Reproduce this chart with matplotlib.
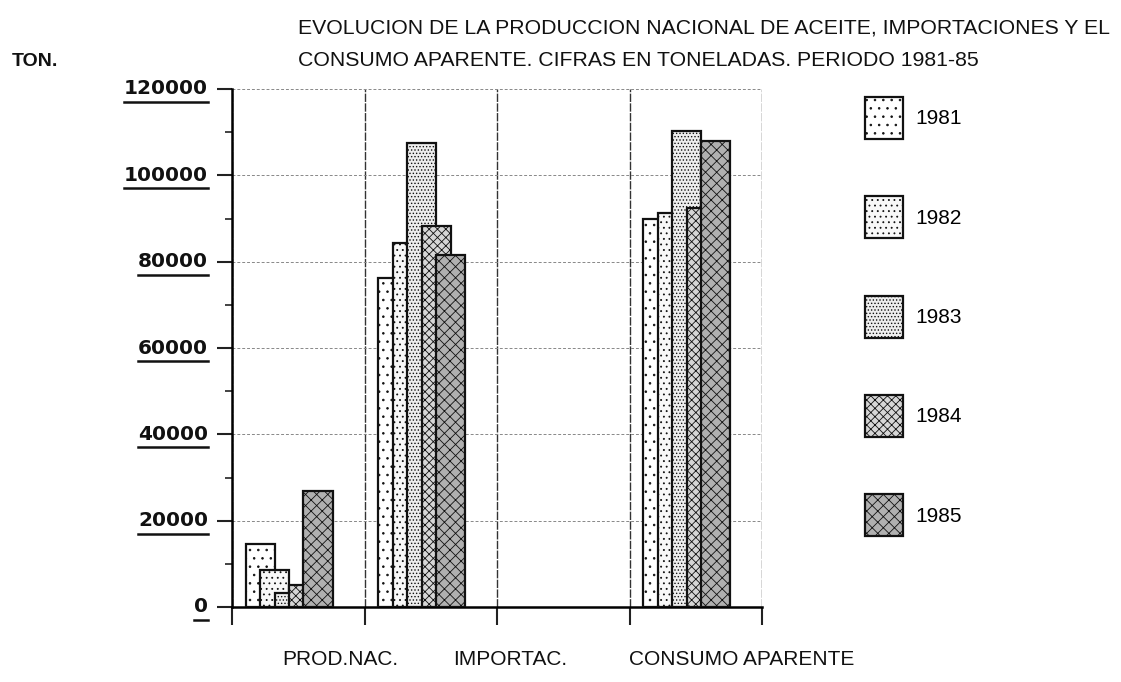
import matplotlib.pyplot as plt
import matplotlib.transforms as mtransforms
import numpy as np

# datos (toneladas)
years = ["1981", "1982", "1983", "1984", "1985"]
categories = ["PROD.NAC.", "IMPORTAC.", "CONSUMO APARENTE"]
prod_nac = [14500, 8500, 3200, 5100, 26900]
importac = [76200, 84300, 107500, 88300, 81500]
consumo = [89900, 91300, 110300, 92400, 108000]
yticks = [0, 20000, 40000, 60000, 80000, 100000, 120000]

values = np.array([prod_nac, importac, consumo])  # filas = categorias

plt.rcParams["hatch.linewidth"] = 0.6
plt.rcParams["font.family"] = ["Liberation Sans", "DejaVu Sans"]

fig = plt.figure(figsize=(11.21, 6.82), dpi=100)
ax = fig.add_axes([232 / 1121, 1 - 607 / 682, 530 / 1121, 518 / 682])

group_pos = [0, 1, 3]          # la 3a casilla queda vacia como en el original
first_off = 0.102
step = 0.1094
width = 0.219
faces = ["#ffffff", "#f8f8f8", "#eeeeee", "#d6d6d6", "#b0b0b0"]
hatches = ["..", "...", ".....", "xxxx", "xxx"]

for i, yr in enumerate(years):
    xs = np.array(group_pos) + first_off + i * step
    ax.bar(xs, values[:, i], width=width, align="edge", facecolor=faces[i],
           edgecolor="#111", hatch=hatches[i], linewidth=1.6, label=yr, zorder=3 + i)

ax.set_xlim(0, 4)
ax.set_ylim(0, 120000)
ax.set_xticks([0, 1, 2, 3, 4])
ax.set_xticklabels([])
ax.set_yticks(yticks)
ax.set_yticks(np.arange(10000, 120000, 20000), minor=True)
ax.set_yticklabels([])
ax.tick_params(axis="x", direction="out", length=13, width=1.5, color="#222")
ax.tick_params(axis="y", which="major", direction="out", length=11, width=1.5, color="#222")
ax.tick_params(axis="y", which="minor", direction="out", length=5, width=1.2, color="#222")

for s in ["top", "right"]:
    ax.spines[s].set_visible(False)
ax.spines["left"].set_linewidth(1.8)
ax.spines["bottom"].set_linewidth(1.8)

ax.grid(True, which="major", axis="y", color="#888", linewidth=0.7, linestyle=(0, (3, 2)), zorder=1)
ax.grid(True, which="major", axis="x", color="#333", linewidth=1.0, linestyle=(0, (6, 1)), zorder=1)
ax.set_axisbelow(True)

# etiquetas del eje y subrayadas
ytr = mtransforms.blended_transform_factory(ax.transAxes, ax.transData)
under = mtransforms.offset_copy(ytr, fig=fig, y=-13, units="dots")
for v in yticks:
    ax.text(-0.045, v, str(v), transform=ytr, ha="right", va="center",
            fontsize=14.5, family="DejaVu Sans", fontweight="bold", color="#111")
    x0 = -0.045 - 0.0265 * len(str(v))
    ax.plot([x0, -0.045], [v, v], transform=under, color="#111", lw=1.8, clip_on=False)

# nombres de categorias (desplazados como en el original)
xtr = mtransforms.blended_transform_factory(ax.transData, ax.transAxes)
for xc, name in zip([0.82, 2.1, 3.85], categories):
    ax.text(xc, -0.102, name, transform=xtr, ha="center", va="center",
            fontsize=15, color="#111")

fig.text(298 / 1121, 1 - 28 / 682,
         "EVOLUCION DE LA PRODUCCION NACIONAL DE ACEITE, IMPORTACIONES Y EL",
         fontsize=15.3, va="center", color="#111")
fig.text(298 / 1121, 1 - 60 / 682,
         "CONSUMO APARENTE. CIFRAS EN TONELADAS. PERIODO 1981-85",
         fontsize=15.3, va="center", color="#111")
fig.text(12 / 1121, 1 - 62 / 682, "TON.", fontsize=14, fontweight="bold", va="center", color="#111")

fig.legend(loc="upper left", bbox_to_anchor=(865 / 1121, 1 - 97 / 682), frameon=False,
           fontsize=15, handlelength=1.82, handleheight=2.74, labelspacing=2.74,
           handletextpad=0.6, borderpad=0, borderaxespad=0)

fig.savefig("out.png", dpi=100)
